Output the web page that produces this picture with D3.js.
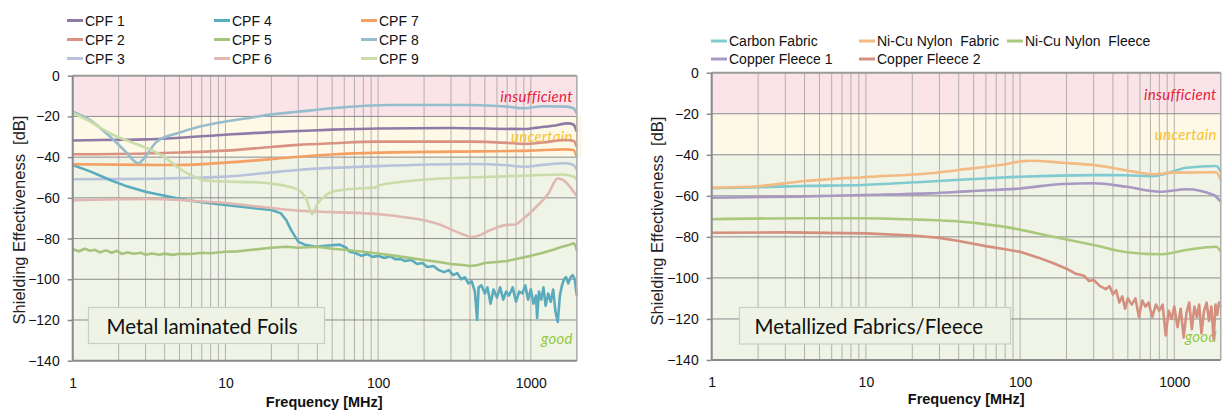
<!DOCTYPE html>
<html><head><meta charset="utf-8">
<script src="https://cdn.jsdelivr.net/npm/d3@7"></script>
<style>body{margin:0;background:#fff} svg{display:block}</style>
</head><body>
<svg id="c" width="1228" height="412"></svg>
<script>
// ---------- data ----------
const yTicks = [0, -20, -40, -60, -80, -100, -120, -140];
const xTicks = [1, 10, 100, 1000];
const xTickLabels = ["1", "10", "100", "1000"];
const zoneNames = ["insufficient", "uncertain", "good"];
const zoneTop = [0, -20, -40];
const zoneBottom = [-20, -40, -140];

const leftNames = ["CPF 1","CPF 2","CPF 3","CPF 4","CPF 5","CPF 6","CPF 7","CPF 8","CPF 9"];
const cpf1 = [[1,-31.8],[2,-31.5],[3,-31.3],[5,-30.5],[10,-29],[20,-27.7],[30,-27.2],[50,-26.5],[100,-25.9],[300,-25.7],[890,-26.2],[1100,-25.5],[1400,-24.6],[1750,-23.4],[1900,-24],[2000,-27.5]];
const cpf2 = [[1,-38.6],[3,-38.2],[5,-37.7],[10,-36.8],[20,-35],[30,-34],[50,-33.2],[100,-32.4],[400,-32.4],[700,-33],[900,-33.5],[1200,-32.8],[1700,-31.6],[1900,-32],[2000,-34.9]];
const cpf3 = [[1,-50.9],[3,-50.7],[5,-50.3],[10,-49.6],[20,-47.5],[30,-46.3],[50,-45.3],[100,-44.4],[400,-43.4],[700,-44],[900,-44.7],[1200,-43.8],[1700,-43],[1900,-43.8],[2000,-46.3]];
const cpf4 = [[1,-43.9],[1.3,-47],[1.76,-51.2],[2.2,-54],[3,-57],[4,-59],[5,-60.5],[7,-62.2],[10,-63.5],[15,-65],[20,-66],[23,-67.5],[25,-70.9],[27,-76],[30,-81.5],[33,-83],[39.5,-84],[45,-83.5],[56,-83],[62,-84.5],[65,-86.5],[70,-87],[78,-88.5],[85,-87.6],[92,-89],
  [100,-88.5],[110,-89.5],[120,-88.7],[130,-90.2],[140,-90],[150,-91],[165,-90.5],[180,-92.5],[195,-92],[210,-94],[230,-93.5],[250,-95.5],[270,-96.5],[290,-95.5],[310,-98],[330,-97],[350,-100],[370,-99],[390,-102],[410,-101],[430,-106],[445,-120],[455,-104],[475,-103],[500,-107],[520,-104],[545,-112],[570,-105],[600,-109],[630,-104],[660,-110],[690,-106],[720,-108],[760,-104],[800,-111],[840,-106],[880,-107],[920,-103],[960,-110],[1000,-105],[1040,-112],[1080,-108],[1100,-119],[1130,-106],[1170,-110],[1210,-104],[1250,-113],[1300,-107],[1350,-111],[1400,-105],[1450,-116],[1500,-121],[1550,-108],[1600,-103],[1650,-100],[1700,-99],[1760,-102],[1820,-99],[1880,-98],[1940,-100],[2000,-108]];
const cpf5 = [[1,-85.3],[1.1,-86.2],[1.2,-85],[1.3,-86],[1.4,-85.5],[1.5,-86.8],[1.65,-85.8],[1.8,-87],[1.95,-86],[2.1,-87.5],[2.3,-86.8],[2.5,-87.5],[2.8,-87],[3,-88],[3.3,-87.3],[3.7,-88],[4,-87.4],[4.5,-88],[5,-87.5],[6,-87.6],[7,-87],[8,-87.2],[10,-86.5],[12,-86.3],[15,-85.5],[20,-84.5],[25,-84],[30,-84.5],[40,-84],[50,-85],[60,-85.5],[80,-86.5],[100,-87.3],[130,-88.5],[160,-89.5],[200,-90.5],[250,-91.5],[300,-92.5],[360,-93],[400,-93.5],[450,-93],[500,-92],[600,-91.5],[700,-91],[800,-90],[1000,-88.5],[1200,-87],[1400,-85.5],[1600,-84],[1800,-83],[1900,-82.3],[1950,-83],[2000,-86]];
const cpf6 = [[1,-61.2],[2,-60.7],[3,-60.5],[5,-61],[7,-61.8],[10,-62.5],[15,-64],[20,-65],[30,-66.3],[50,-67],[100,-68],[150,-69.5],[200,-71],[250,-73],[300,-75.5],[360,-78],[410,-79.2],[460,-78.5],[520,-76.5],[600,-74.5],[700,-73.3],[780,-73.2],[900,-70],[1100,-64],[1300,-58],[1500,-50.5],[1650,-51.5],[1800,-54.5],[1950,-58],[2000,-59]];
const cpf7 = [[1,-43.5],[3,-43.8],[5,-43.9],[10,-42.7],[20,-41],[30,-39.8],[50,-38.7],[100,-37.8],[300,-37.3],[1000,-36.8],[1700,-36.2],[1900,-36.5],[2000,-40]];
const cpf8 = [[1,-17.7],[1.3,-21.8],[1.76,-30],[2.2,-37],[2.69,-43],[3,-39.5],[3.55,-32.4],[5,-28],[6.8,-25],[10,-22.5],[15,-20.5],[20,-19],[30,-17.7],[50,-16],[119,-14.4],[400,-14.4],[700,-15.2],[900,-16],[1200,-15],[1700,-15.2],[1900,-16],[2000,-18.5]];
const cpf9 = [[1,-18.3],[1.3,-22.5],[1.76,-28.3],[2.2,-31.5],[3.05,-35.5],[4,-40],[4.8,-44.7],[6,-49],[7.5,-51.5],[10,-52],[15,-52.3],[20,-53],[26,-54.5],[30,-56],[34,-61],[37,-68],[40,-63],[45,-59],[50,-57],[70,-55.5],[95,-55],[100,-54],[150,-52],[200,-51],[400,-50],[1000,-49],[1600,-48.5],[1900,-49.5],[2000,-51]];
const leftSeries = [cpf1,cpf2,cpf3,cpf4,cpf5,cpf6,cpf7,cpf8,cpf9];

const rightNames = ["Carbon Fabric","Ni-Cu Nylon  Fabric","Ni-Cu Nylon  Fleece","Copper Fleece 1","Copper Fleece 2"];
const carbonFabric = [[1,-56.3],[2,-55.8],[3.93,-55.2],[9.6,-54.7],[26,-53],[50,-51.8],[100,-50.7],[300,-49.9],[490,-50],[730,-50.4],[900,-49],[1200,-46.3],[1870,-45.5],[2000,-48.2]];
const nicuFabric = [[1,-56],[2,-55.3],[4,-52.8],[10,-50.8],[26,-49],[40,-47.4],[74,-45],[116,-42.9],[190,-43.9],[362,-45.8],[540,-48.2],[730,-49.5],[980,-48.7],[1870,-48.5],[2000,-52.3]];
const nicuFleece = [[1,-71.4],[3.56,-70.9],[9.6,-70.9],[26,-71.8],[36.8,-72.3],[78,-75],[164,-79.9],[300,-84],[490,-87.5],[810,-88.5],[1200,-86.4],[1870,-84.8],[2000,-87.2]];
const copperFleece1 = [[1,-60.9],[3.56,-60.4],[9.6,-59.6],[26,-58.8],[47.5,-57.7],[100,-56.4],[190,-54.2],[300,-53.9],[490,-55.6],[810,-58],[1200,-56.8],[1800,-59.6],[2000,-62.9]];
const copperFleece2 = [[1,-78],[3,-77.8],[10,-78.3],[20,-79.3],[30,-80.5],[40,-82],[60,-84.5],[80,-86],[100,-87.3],[130,-90],[160,-92.5],[200,-95.5],[230,-98],[260,-99],[280,-101.5],[300,-101],[330,-104],[360,-105.5],[380,-104],[400,-108],[420,-106],[440,-112],[460,-109],[480,-115],[500,-110],[530,-113],[560,-110],[590,-119],[620,-111],[650,-114],[680,-112],[720,-119],[760,-113],[800,-116],[840,-113],[880,-128],[920,-116],[960,-120],[1000,-114],[1050,-124],[1100,-115],[1150,-129],[1200,-117],[1250,-112],[1300,-125],[1350,-114],[1400,-119],[1450,-113],[1500,-127],[1560,-116],[1620,-112],[1680,-121],[1740,-114],[1800,-130],[1850,-113],[1900,-118],[1950,-112],[2000,-114]];
const rightSeries = [carbonFabric,nicuFabric,nicuFleece,copperFleece1,copperFleece2];

const panelTitles = ["Metal laminated Foils", "Metallized Fabrics/Fleece"];

// ---------- styles ----------
const leftColors = ["#8f7aa6","#d99383","#b8c3db","#5aabbd","#a6c47d","#dfb8b2","#f4a062","#97bdcd","#c9dca9"];
const rightColors = ["#80cad0","#f3bb83","#a9c97c","#a898c2","#d48f7e"];
const zoneFill = ["#fbe4e8","#fef8e7","#eff4e6"];
const zoneText = ["#e5213f","#f6c232","#93c83f"];
const noisy = {left:[3,4], right:[4]};

const svg = d3.select("#c");

function panel(cfg) {
  const x = d3.scaleLog().domain([1, 2000]).range([cfg.x0, cfg.x1]);
  const y = d3.scaleLinear().domain([-140, 0]).range([cfg.y1, cfg.y0]);
  const g = svg.append("g");

  zoneNames.forEach((z, i) => {
    g.append("rect").attr("x", cfg.x0)
      .attr("width", (cfg.x1 - cfg.x0) + (i === 1 ? cfg.extra : 0))
      .attr("y", y(zoneTop[i])).attr("height", y(zoneBottom[i]) - y(zoneTop[i]))
      .attr("fill", zoneFill[i]);
  });

  const vgrid = [];
  for (let d = 1; d <= 1000; d *= 10) for (let m = 1; m <= 9; m++) { const v = d * m; if (v <= 2000) vgrid.push(v); }
  g.append("g").selectAll("line").data(vgrid).join("line")
    .attr("x1", d => x(d)).attr("x2", d => x(d)).attr("y1", cfg.y0).attr("y2", cfg.y1)
    .attr("stroke", "#a6a6a6").attr("stroke-width", 1).attr("stroke-opacity", 0.85);
  g.append("g").selectAll("line").data(yTicks.filter(v => v > -140 && v < 0)).join("line")
    .attr("x1", cfg.x0).attr("x2", cfg.x1).attr("y1", d => y(d)).attr("y2", d => y(d))
    .attr("stroke", "#8c8c8c").attr("stroke-width", 1);

  const zy = [y(-10) + 5.5, y(-30) + 5.5, y(-130) + 4];
  zoneNames.forEach((z, i) => {
    g.append("text").attr("x", cfg.x1 - 4).attr("y", zy[i] + cfg.zoneDy[i])
      .attr("text-anchor", "end").attr("fill", zoneText[i])
      .style("font-family", "Lato, 'Open Sans', sans-serif").style("font-style", "italic")
      .style("font-size", "15px").style("letter-spacing", "0.3px").text(z);
  });

  cfg.series.forEach((s, i) => {
    const line = d3.line().x(d => x(d[0])).y(d => y(d[1]))
      .curve(cfg.noisy.includes(i) ? d3.curveLinear : d3.curveMonotoneX);
    g.append("path").attr("d", line(s)).attr("fill", "none")
      .attr("stroke", cfg.colors[i]).attr("stroke-width", 2.6)
      .attr("stroke-linejoin", "round");
  });

  g.append("line").attr("x1", cfg.x0).attr("x2", cfg.x1).attr("y1", cfg.y0).attr("y2", cfg.y0)
    .attr("stroke", "#9a9a9a").attr("stroke-width", 2);
  g.append("line").attr("x1", cfg.x1).attr("x2", cfg.x1).attr("y1", cfg.y0).attr("y2", cfg.y1)
    .attr("stroke", "#b0b0b0").attr("stroke-width", 1.5);
  g.append("line").attr("x1", cfg.x0).attr("x2", cfg.x1).attr("y1", cfg.y1).attr("y2", cfg.y1)
    .attr("stroke", "#8a8a8a").attr("stroke-width", 2);
  g.append("line").attr("x1", cfg.x0).attr("x2", cfg.x0).attr("y1", cfg.y0).attr("y2", cfg.y1)
    .attr("stroke", "#8a8a8a").attr("stroke-width", 2);

  const ya = g.append("g").attr("transform", `translate(${cfg.x0},0)`)
    .call(d3.axisLeft(y).tickValues(yTicks).tickSize(5).tickPadding(8).tickFormat(d3.format("d")));
  ya.select(".domain").remove();
  ya.selectAll(".tick line").attr("stroke", "#8a8a8a").attr("stroke-width", 1.5);
  ya.selectAll("text").attr("fill", "#111").style("font-family", "'Liberation Sans', Arial, sans-serif").style("font-size", "14px");

  const xa = g.append("g").attr("transform", `translate(0,${cfg.y1})`)
    .call(d3.axisBottom(x).tickValues(xTicks).tickSize(0).tickPadding(17).tickFormat((d, i) => xTickLabels[i]));
  xa.select(".domain").remove();
  xa.selectAll("text").attr("fill", "#111").style("font-family", "'Liberation Sans', Arial, sans-serif").style("font-size", "14px");

  g.append("text").attr("x", (cfg.x0 + cfg.x1) / 2 + cfg.xlabDx).attr("y", cfg.xlabY)
    .attr("text-anchor", "middle").style("font-family", "'Liberation Sans', Arial, sans-serif")
    .style("font-weight", "bold").style("font-size", "14.5px").attr("fill", "#111").text("Frequency [MHz]");
  g.append("text").attr("transform", `translate(${cfg.ylabX},${cfg.ylabY}) rotate(-90)`)
    .attr("text-anchor", "middle").style("font-family", "'Liberation Sans', Arial, sans-serif")
    .style("font-size", "16.5px").attr("fill", "#222").style("white-space", "pre")
    .text("Shielding Effectiveness  [dB]");

  g.append("rect").attr("x", cfg.box[0]).attr("y", cfg.box[1]).attr("width", cfg.box[2]).attr("height", cfg.box[3])
    .attr("fill", "#eef3e6").attr("stroke", "#c9cfc1").attr("stroke-width", 1.2);
  g.append("text").attr("x", cfg.box[0] + cfg.boxPad).attr("y", cfg.box[1] + 26)
    .style("font-family", "Lato, 'Open Sans', sans-serif").style("font-size", "20.5px").attr("fill", "#111")
    .text(cfg.title);

  cfg.names.forEach((n, i) => {
    const col = cfg.legendCol(i), row = cfg.legendRow(i);
    const lx = cfg.legX[col], ly = cfg.legY[row];
    g.append("line").attr("x1", lx).attr("x2", lx + 16).attr("y1", ly).attr("y2", ly)
      .attr("stroke", cfg.colors[i]).attr("stroke-width", 3);
    g.append("text").attr("x", lx + 18).attr("y", ly + 5)
      .style("font-family", "'Liberation Sans', Arial, sans-serif").style("font-size", "14px")
      .style("white-space", "pre").attr("fill", "#111").text(n);
  });
}

panel({
  x0: 72.7, x1: 576.8, y0: 75.7, y1: 360.7, extra: 5,
  series: leftSeries, colors: leftColors, names: leftNames, noisy: noisy.left,
  zoneDy: [0, 0, 0],
  xlabDx: -0.5, xlabY: 406.5, ylabX: 24.5, ylabY: 220,
  box: [88.5, 307.5, 236, 36], boxPad: 18, title: panelTitles[0],
  legendCol: i => Math.floor(i / 3), legendRow: i => i % 3,
  legX: [67, 214, 361], legY: [20.5, 39.5, 58.5]
});
panel({
  x0: 711.7, x1: 1220.7, y0: 72.7, y1: 360, extra: 0,
  series: rightSeries, colors: rightColors, names: rightNames, noisy: noisy.right,
  zoneDy: [1, 0, -1],
  xlabDx: 0, xlabY: 403.5, ylabX: 662.5, ylabY: 221,
  box: [739.5, 307.5, 271, 36.5], boxPad: 15, title: panelTitles[1],
  legendCol: i => i % 3, legendRow: i => Math.floor(i / 3),
  legX: [711, 859, 1007], legY: [41, 59]
});
</script>
</body></html>
